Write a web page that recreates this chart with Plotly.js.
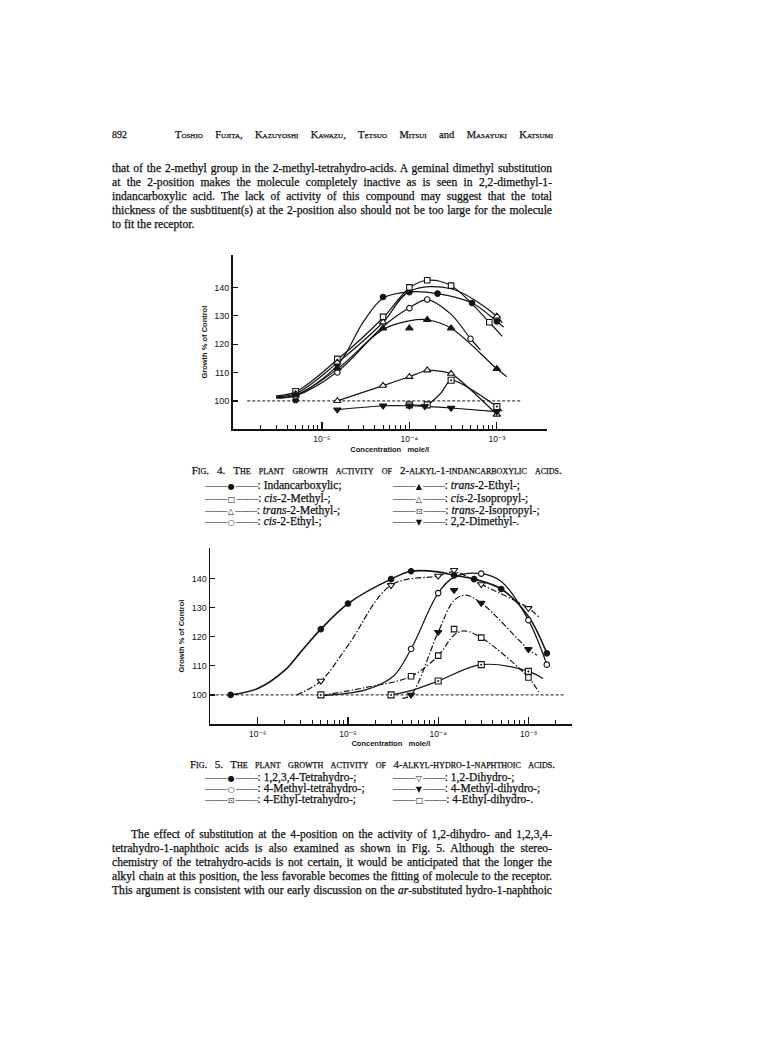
<!DOCTYPE html>
<html>
<head>
<meta charset="utf-8">
<script src="https://cdn.plot.ly/plotly-3.0.1.min.js"></script>
<style>
html,body{margin:0;padding:0;background:#fff;}
#page{position:relative;width:768px;height:1056px;overflow:hidden;background:#fff;}
#plot{position:absolute;left:0;top:0;width:768px;height:1056px;}
.t{position:absolute;font-family:"Liberation Serif","Times New Roman",serif;color:#111;white-space:nowrap;line-height:1;-webkit-text-stroke:0.25px #111;z-index:2;}
.sc{font-variant:small-caps;}
.ln{letter-spacing:-0.6px;-webkit-text-stroke:0;}
.sym{font-family:"DejaVu Sans",sans-serif;font-size:8px;-webkit-text-stroke:0;padding:0 1px;}
</style>
</head>
<body>
<div id="page"><div id="plot"></div></div>
<script>
// ================= DATA : Fig. 4 (2-alkyl-1-indancarboxylic acids) =================
// concentration (mole/l) and growth (% of control); points = plotted symbols, curve = drawn line
const f4IndanX = [5e-6, 1.5e-5, 5e-5, 1e-4, 2.1e-4, 5.2e-4, 1e-3];
const f4IndanY = [100.3, 113.0, 136.6, 138.3, 137.8, 134.5, 128.0];
const f4IndanCurveX = [3e-6, 5e-6, 1.5e-5, 3e-5, 5e-5, 1e-4, 2.1e-4, 5.2e-4, 1e-3, 1.2e-3];
const f4IndanCurveY = [101.2, 102.0, 112.5, 128.0, 136.2, 138.4, 137.8, 134.5, 128.0, 126.0];

const f4CisMeX = [5e-6, 1.5e-5, 5e-5, 1e-4, 1.6e-4, 3e-4, 8.2e-4];
const f4CisMeY = [103.4, 114.8, 129.6, 140.0, 142.5, 140.6, 127.7];
const f4CisMeCurveX = [3e-6, 5e-6, 1.5e-5, 5e-5, 1e-4, 1.6e-4, 3e-4, 8.2e-4, 1.15e-3];
const f4CisMeCurveY = [101.8, 103.2, 114.5, 129.3, 139.8, 142.5, 140.6, 127.7, 122.7];

const f4TransMeX = [5e-6, 1.5e-5, 5e-5, 1e-3];
const f4TransMeY = [102.5, 113.6, 127.7, 129.8];
const f4TransMeCurveX = [3e-6, 5e-6, 1.5e-5, 5e-5, 1e-4, 3e-4, 1e-3, 1.15e-3];
const f4TransMeCurveY = [101.5, 102.5, 113.4, 127.7, 138.6, 139.5, 129.8, 127.5];

const f4CisEtX = [5e-6, 1.5e-5, 1e-4, 1.6e-4, 5e-4];
const f4CisEtY = [101.6, 110.0, 132.7, 135.7, 121.9];
const f4CisEtCurveX = [3e-6, 5e-6, 1.5e-5, 5e-5, 1e-4, 1.6e-4, 3e-4, 5e-4, 6.5e-4];
const f4CisEtCurveY = [101.0, 101.8, 110.3, 126.2, 132.8, 135.6, 130.5, 121.9, 118.0];

const f4TransEtX = [5e-6, 1.5e-5, 5e-5, 1e-4, 1.6e-4, 3e-4, 1e-3];
const f4TransEtY = [102.0, 111.5, 125.6, 125.6, 128.6, 125.6, 111.3];
const f4TransEtCurveX = [3e-6, 5e-6, 1.5e-5, 5e-5, 1e-4, 1.6e-4, 3e-4, 1e-3, 1.3e-3];
const f4TransEtCurveY = [101.2, 101.9, 111.2, 125.2, 128.2, 128.6, 125.6, 111.3, 108.5];

const f4CisIprX = [1.5e-5, 5e-5, 1e-4, 1.6e-4, 3e-4, 1e-3];
const f4CisIprY = [100.0, 105.4, 108.5, 110.8, 109.6, 95.2];

const f4TransIprX = [1e-4, 1.6e-4, 3e-4, 1e-3];
const f4TransIprY = [98.6, 98.6, 107.3, 98.0];
const f4TransIprCurveX = [1e-4, 1.6e-4, 2.3e-4, 3e-4, 1e-3, 1.15e-3];
const f4TransIprCurveY = [98.6, 98.7, 102.8, 107.3, 98.0, 96.4];

const f4DiMeX = [1.5e-5, 5e-5, 1e-4, 1.5e-4, 3e-4, 1e-3];
const f4DiMeY = [96.9, 98.3, 98.3, 98.1, 97.5, 96.2];

const f4BaseX = [1.4e-6, 1.85e-3];
const f4BaseY = [100, 100];

// ================= DATA : Fig. 5 (4-alkyl-hydro-1-naphthoic acids) =================
const f5TetraX = [5e-7, 5e-6, 1e-5, 3e-5, 5e-5, 1.5e-4, 2.5e-4, 5e-4, 1.6e-3];
const f5TetraY = [100.0, 122.6, 131.4, 139.8, 142.5, 141.1, 139.8, 136.4, 114.3];
const f5TetraCurveX = [5e-7, 1e-6, 2e-6, 3e-6, 5e-6, 1e-5, 3e-5, 5e-5, 1e-4, 1.5e-4, 2.5e-4, 5e-4, 1e-3, 1.6e-3];
const f5TetraCurveY = [100.0, 102.2, 108.5, 114.8, 122.6, 131.4, 139.8, 142.5, 142.3, 141.1, 139.8, 136.4, 127.0, 114.3];

const f5DiX = [5e-6, 3e-5, 1e-4, 1.5e-4, 3e-4, 1e-3];
const f5DiY = [104.8, 137.7, 140.9, 142.9, 138.0, 129.8];
const f5DiCurveX = [2.7e-6, 5e-6, 1e-5, 3e-5, 1e-4, 1.5e-4, 3e-4, 1e-3, 1.3e-3];
const f5DiCurveY = [100.0, 104.8, 117.0, 137.7, 140.9, 142.3, 138.0, 129.8, 126.8];

const f5MeTetraX = [5e-5, 1e-4, 3e-4, 1e-3, 1.6e-3];
const f5MeTetraY = [115.8, 135.0, 141.7, 125.7, 110.4];
const f5MeTetraCurveX = [5e-6, 1.6e-5, 3.2e-5, 5e-5, 1e-4, 1.5e-4, 3e-4, 5e-4, 1e-3, 1.6e-3];
const f5MeTetraCurveY = [99.7, 101.8, 106.5, 115.8, 135.0, 140.5, 141.7, 139.0, 125.7, 110.4];

const f5MeDiX = [5e-5, 1e-4, 1.5e-4, 3e-4, 1e-3];
const f5MeDiY = [100.0, 121.6, 136.0, 131.6, 115.7];
const f5MeDiCurveX = [4e-5, 5e-5, 1e-4, 1.5e-4, 2e-4, 3e-4, 1e-3, 1.25e-3];
const f5MeDiCurveY = [98.8, 100.0, 121.6, 132.5, 134.3, 131.6, 115.7, 113.6];

const f5EtTetraX = [5e-6, 3e-5, 1e-4, 3e-4, 1e-3];
const f5EtTetraY = [100.0, 100.0, 104.8, 110.4, 108.1];
const f5EtTetraCurveX = [3e-5, 5e-5, 1e-4, 3e-4, 1e-3, 1.45e-3];
const f5EtTetraCurveY = [100.0, 101.5, 104.8, 110.4, 108.1, 105.6];

const f5EtDiX = [5e-5, 1e-4, 1.5e-4, 3e-4, 1e-3];
const f5EtDiY = [106.4, 113.5, 122.6, 119.7, 106.0];
const f5EtDiCurveX = [5e-6, 1.6e-5, 5e-5, 1e-4, 1.5e-4, 1.95e-4, 3e-4, 1e-3, 1.3e-3];
const f5EtDiCurveY = [99.8, 102.6, 106.4, 113.5, 120.6, 122.0, 119.7, 106.0, 101.0];

const f5BaseX = [3e-7, 2.45e-3];
const f5BaseY = [100, 100];

// ================= AXIS TICKS =================
const yTickVals = [100, 110, 120, 130, 140];
const f4MajorTicks = [1e-5, 1e-4, 1e-3];
const f4MajorText = ['10⁻⁵', '10⁻⁴', '10⁻³'];
const f4MinorTicks = [2e-6,3e-6,4e-6,5e-6,6e-6,7e-6,8e-6,9e-6, 2e-5,3e-5,4e-5,5e-5,6e-5,7e-5,8e-5,9e-5, 2e-4,3e-4,4e-4,5e-4,6e-4,7e-4,8e-4,9e-4];
const f5MajorTicks = [1e-6, 1e-5, 1e-4, 1e-3];
const f5MajorText = ['10⁻⁶', '10⁻⁵', '10⁻⁴', '10⁻³'];
const f5MinorTicks = [2e-6,3e-6,4e-6,5e-6,6e-6,7e-6,8e-6,9e-6, 2e-5,3e-5,4e-5,5e-5,6e-5,7e-5,8e-5,9e-5, 2e-4,3e-4,4e-4,5e-4,6e-4,7e-4,8e-4,9e-4, 2e-3];

// ================= PLOT =================
const ink = '#141414';
const lineTraces = [], markTraces = [];
const SYM = {
  dot:['circle', true, 5.5], sq:['square', false, 5.5], tri:['triangle-up', false, 6.5], circ:['circle', false, 5.5],
  tri_f:['triangle-up', true, 6.5], sqdot:['square-dot', false, 6], tdn_f:['triangle-down', true, 6.5], tdn:['triangle-down', false, 6.5]
};
function series(ax, name, cx, cy, px, py, sym, dash, width, smooth) {
  const s = SYM[sym];
  lineTraces.push({type:'scatter', mode:'lines', x:cx, y:cy, xaxis:ax[0], yaxis:ax[1], name:name, legendgroup:name,
    showlegend:false, hoverinfo:'skip',
    line:{color:ink, width:width || 1.2, dash:dash || 'solid', shape:'spline', smoothing:(smooth == null ? 1 : smooth)}});
  markTraces.push({type:'scatter', mode:'markers', x:px, y:py, xaxis:ax[0], yaxis:ax[1], name:name, legendgroup:name,
    showlegend:false, hoverinfo:'skip',
    marker:{symbol:s[0], size:s[2], color:s[1] ? ink : '#ffffff', line:{color:ink, width:1.1}}});
}
const A4 = ['x', 'y'], A5 = ['x2', 'y2'];
const DASHDOT = '6px,2px,1.5px,2px';

lineTraces.push({type:'scatter', mode:'lines', x:f4BaseX, y:f4BaseY, xaxis:'x', yaxis:'y', showlegend:false, hoverinfo:'skip', name:'control', line:{color:ink, width:1, dash:'3px,2px'}});
lineTraces.push({type:'scatter', mode:'lines', x:f5BaseX, y:f5BaseY, xaxis:'x2', yaxis:'y2', showlegend:false, hoverinfo:'skip', name:'control', line:{color:ink, width:1, dash:'3px,2px'}});

series(A4, 'Indancarboxylic', f4IndanCurveX, f4IndanCurveY, f4IndanX, f4IndanY, 'dot');
series(A4, 'cis-2-Methyl', f4CisMeCurveX, f4CisMeCurveY, f4CisMeX, f4CisMeY, 'sq');
series(A4, 'trans-2-Methyl', f4TransMeCurveX, f4TransMeCurveY, f4TransMeX, f4TransMeY, 'tri');
series(A4, 'cis-2-Ethyl', f4CisEtCurveX, f4CisEtCurveY, f4CisEtX, f4CisEtY, 'circ');
series(A4, 'trans-2-Ethyl', f4TransEtCurveX, f4TransEtCurveY, f4TransEtX, f4TransEtY, 'tri_f');
series(A4, 'cis-2-Isopropyl', f4CisIprX, f4CisIprY, f4CisIprX, f4CisIprY, 'tri', null, 1.2, 0.5);
series(A4, 'trans-2-Isopropyl', f4TransIprCurveX, f4TransIprCurveY, f4TransIprX, f4TransIprY, 'sqdot', null, 1.2, 0.7);
series(A4, '2,2-Dimethyl', f4DiMeX, f4DiMeY, f4DiMeX, f4DiMeY, 'tdn_f', null, 1.2, 0.6);

series(A5, '1,2,3,4-Tetrahydro', f5TetraCurveX, f5TetraCurveY, f5TetraX, f5TetraY, 'dot', null, 1.6);
series(A5, '1,2-Dihydro', f5DiCurveX, f5DiCurveY, f5DiX, f5DiY, 'tdn', DASHDOT);
series(A5, '4-Methyl-tetrahydro', f5MeTetraCurveX, f5MeTetraCurveY, f5MeTetraX, f5MeTetraY, 'circ');
series(A5, '4-Methyl-dihydro', f5MeDiCurveX, f5MeDiCurveY, f5MeDiX, f5MeDiY, 'tdn_f', DASHDOT);
series(A5, '4-Ethyl-tetrahydro', f5EtTetraCurveX, f5EtTetraCurveY, f5EtTetraX, f5EtTetraY, 'sqdot');
series(A5, '4-Ethyl-dihydro', f5EtDiCurveX, f5EtDiCurveY, f5EtDiX, f5EtDiY, 'sq', DASHDOT);

const tickFont = {family:'Liberation Sans, DejaVu Sans, sans-serif', size:9, color:ink};
const titleFont = {family:'Liberation Sans, Arial, sans-serif', size:7.5, color:ink, weight:700};
function xAxis(domain, range, major, text, minor, anchor, title, standoff) {
  return {type:'log', domain:domain, range:range, anchor:anchor, showgrid:false, zeroline:false,
    showline:true, linecolor:ink, linewidth:1.5, ticks:'inside', ticklen:7, tickwidth:1.2, tickcolor:ink,
    tickmode:'array', tickvals:major, ticktext:text, tickfont:{...tickFont, size:8.5}, ticklabelstandoff:1,
    minor:{tickmode:'array', tickvals:minor, ticks:'inside', ticklen:4, tickwidth:1, tickcolor:ink, showgrid:false},
    automargin:true,
    title:{text:title, font:titleFont, standoff:standoff}};
}
function yAxis(domain, range, anchor) {
  return {domain:domain, range:range, anchor:anchor, showgrid:false, zeroline:false, automargin:false,
    showline:true, linecolor:ink, linewidth:1.5, ticks:'inside', ticklen:5, tickwidth:1.2, tickcolor:ink,
    tickmode:'array', tickvals:yTickVals, tickfont:tickFont,
    title:{text:'Growth % of Control', font:titleFont}};
}
const W = 768, H = 1056;
const NB = '\u00a0';
const layout = {
  width:W, height:H, margin:{l:0, r:0, t:0, b:0}, paper_bgcolor:'#ffffff', plot_bgcolor:'rgba(0,0,0,0)',
  showlegend:false,
  xaxis:xAxis([232.7/W, 546.7/W], [-6.02, -2.43], f4MajorTicks, f4MajorText, f4MinorTicks, 'y',
    NB.repeat(18) + 'Concentration' + NB.repeat(3) + 'mole/l', 3),
  yaxis:yAxis([1-429.3/H, 1-255/H], [90, 151.4], 'x'),
  xaxis2:xAxis([210/W, 571.7/W], [-6.53, -2.52], f5MajorTicks, f5MajorText, f5MinorTicks, 'y2',
    'Concentration' + NB.repeat(3) + 'mole/l', 1),
  yaxis2:yAxis([1-724/H, 1-548.3/H], [90, 150.4], 'x2')
};
Plotly.newPlot('plot', lineTraces.concat(markTraces), layout, {staticPlot:true, displayModeBar:false});

// ================= PAGE TEXT =================
const page = document.getElementById('page');
function addLine(html, left, cy, fs, cls, target) {
  const d = document.createElement('div');
  d.className = 't ' + (cls || '');
  d.style.left = left + 'px';
  d.style.top = (cy - 0.61 * fs) + 'px';
  d.style.fontSize = fs + 'px';
  d.innerHTML = html;
  page.appendChild(d);
  if (target) {
    const w = d.getBoundingClientRect().width;
    const n = (d.textContent.match(/ /g) || []).length;
    if (n > 0) d.style.wordSpacing = ((target - w) / n) + 'px';
  }
  return d;
}
addLine('892', 112, 136, 10);
addLine('Toshio Fujita, Kazuyoshi Kawazu, Tetsuo Mitsui <span style="font-variant:normal">and</span> Masayuki Katsumi', 175, 136, 10.5, 'sc', 378);

const para1 = [
  'that of the 2-methyl group in the 2-methyl-tetrahydro-acids. A geminal dimethyl substitution',
  'at the 2-position makes the molecule completely inactive as is seen in 2,2-dimethyl-1-',
  'indancarboxylic acid. The lack of activity of this compound may suggest that the total',
  'thickness of the susbtituent(s) at the 2-position also should not be too large for the molecule',
  'to fit the receptor.'
];
const para1Y = [170, 184, 198, 212, 226];
para1.forEach((s, i) => addLine(s, 112, para1Y[i], 11.6, '', i < para1.length - 1 ? 440 : 0));

addLine('Fig. 4. The plant growth activity of 2-alkyl-1-indancarboxylic acids.', 191.7, 472, 11, 'sc', 370);

function key(sym) { return '<span class="ln">——</span><span class="sym">' + sym + '</span><span class="ln">——</span>'; }
const leg4 = [
  [['●', ': Indancarboxylic;'], ['▲', ': <i>trans</i>-2-Ethyl-;']],
  [['□', ': <i>cis</i>-2-Methyl-;'], ['△', ': <i>cis</i>-2-Isopropyl-;']],
  [['△', ': <i>trans</i>-2-Methyl-;'], ['⊡', ': <i>trans</i>-2-Isopropyl-;']],
  [['○', ': <i>cis</i>-2-Ethyl-;'], ['▼', ': 2,2-Dimethyl-.']]
];
const leg4Y = [486.7, 500, 512.3, 523.3];
const legCols = [205, 393];
leg4.forEach((row, i) => row.forEach((c, j) => addLine(key(c[0]) + c[1], legCols[j], leg4Y[i], 11.5)));

addLine('Fig. 5. The plant growth activity of 4-alkyl-hydro-1-naphthoic acids.', 190, 765.5, 11, 'sc', 365);
const leg5 = [
  [['●', ': 1,2,3,4-Tetrahydro-;'], ['▽', ': 1,2-Dihydro-;']],
  [['○', ': 4-Methyl-tetrahydro-;'], ['▼', ': 4-Methyl-dihydro-;']],
  [['⊡', ': 4-Ethyl-tetrahydro-;'], ['□', ': 4-Ethyl-dihydro-.']]
];
const leg5Y = [779, 790, 801];
leg5.forEach((row, i) => row.forEach((c, j) => addLine(key(c[0]) + c[1], legCols[j], leg5Y[i], 11.5)));

const para2 = [
  'The effect of substitution at the 4-position on the activity of 1,2-dihydro- and 1,2,3,4-',
  'tetrahydro-1-naphthoic acids is also examined as shown in Fig. 5. Although the stereo-',
  'chemistry of the tetrahydro-acids is not certain, it would be anticipated that the longer the',
  'alkyl chain at this position, the less favorable becomes the fitting of molecule to the receptor.',
  'This argument is consistent with our early discussion on the <i>ar</i>-substituted hydro-1-naphthoic'
];
const para2Y = [836, 850, 864, 878, 892];
para2.forEach((s, i) => addLine(s, i === 0 ? 131 : 112, para2Y[i], 11.6, '', i === 0 ? 421 : 440));
</script>
</body>
</html>
